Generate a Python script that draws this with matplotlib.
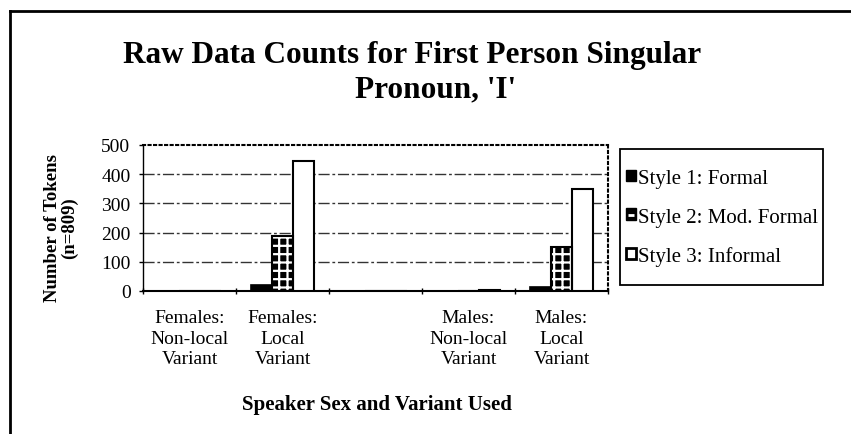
import matplotlib
matplotlib.use("Agg")
import matplotlib.pyplot as plt
import numpy as np
from matplotlib.patches import Patch, Rectangle
from matplotlib.lines import Line2D
from matplotlib.legend_handler import HandlerTuple

categories = ["Females:\nNon-local\nVariant", "Females:\nLocal\nVariant", "",
              "Males:\nNon-local\nVariant", "Males:\nLocal\nVariant"]
series_names = ["Style 1: Formal", "Style 2: Mod. Formal", "Style 3: Informal"]
style1 = [0, 20, 0, 0, 15]
style2 = [0, 188, 0, 0, 152]
style3 = [0, 445, 0, 5, 350]
yticks = [0, 100, 200, 300, 400, 500]

plt.rcParams['font.family'] = ['Liberation Serif', 'DejaVu Serif']
plt.rcParams['hatch.linewidth'] = 1.6

W, H = 851, 435
fig = plt.figure(figsize=(W / 100, H / 100), dpi=100)
ax = fig.add_axes([143 / W, 1 - 292 / H, (608 - 143) / W, (292 - 146) / H])

x = np.arange(len(categories))
bw = 0.225
# style 1
ax.bar(x - bw, style1, bw, color='black', edgecolor='black', linewidth=1.2, zorder=3)
# style 2 - black with white grid hatch
ax.bar(x, style2, bw, color='black', edgecolor='white', hatch='++', linewidth=0, zorder=3)
ax.bar(x, style2, bw, fill=False, edgecolor='black', linewidth=1.5, zorder=4)
# style 3
ax.bar(x + bw, style3, bw, color='white', edgecolor='black', linewidth=1.5, zorder=3)

ax.set_xlim(-0.5, len(categories) - 0.5)
ax.set_ylim(0, 500)
ax.set_yticks(yticks)
ax.set_yticklabels([str(v) for v in yticks], fontsize=14)
ax.tick_params(axis='y', length=3, width=1, pad=6, direction='out')

ax.set_xticks(np.arange(len(categories) + 1) - 0.5)
ax.set_xticklabels([])
ax.tick_params(axis='x', which='major', length=4, width=1, direction='inout')
ax.set_xticks(x, minor=True)
ax.set_xticklabels(categories, minor=True, fontsize=14, linespacing=1.27)
ax.tick_params(axis='x', which='minor', length=0, pad=13)

for v in yticks[1:-1]:
    ax.axhline(v, color='#333333', linewidth=1.0, linestyle=(0, (8, 2, 2, 2)), zorder=1)

ax.spines['top'].set_linestyle(':')
ax.spines['top'].set_linewidth(1.5)
ax.spines['right'].set_linestyle(':')
ax.spines['right'].set_linewidth(1.5)
ax.spines['left'].set_linewidth(1.0)
ax.spines['bottom'].set_linewidth(1.5)

# axis labels
fig.text(61 / W, 1 - 228 / H, "Number of Tokens\n(n=809)", rotation=90, ha='center', va='center',
         fontsize=13.5, fontweight='bold', linespacing=1.0)
fig.text(377 / W, 1 - 405 / H, "Speaker Sex and Variant Used", ha='center', va='center',
         fontsize=15, fontweight='bold')

# title
fig.text(412 / W, 1 - 63 / H, "Raw Data Counts for First Person Singular", ha='center',
         va='baseline', fontsize=22.5, fontweight='bold')
fig.text(436 / W, 1 - 97 / H, "Pronoun, 'I'", ha='center', va='baseline',
         fontsize=22.5, fontweight='bold')

# legend
h1 = Patch(facecolor='black', edgecolor='black')
h2 = (Patch(facecolor='black', edgecolor='black'),
      Line2D([], [], marker='_', color='white', markersize=5, markeredgewidth=2,
             linestyle='none'))
h3 = Patch(facecolor='white', edgecolor='black', linewidth=2)
leg = fig.legend([h1, h2, h3], series_names, loc='upper left',
                 bbox_to_anchor=(626 / W, 1 - 170 / H),
                 fontsize=15, frameon=False,
                 handlelength=0.48, handleheight=0.48,
                 handletextpad=0.1, labelspacing=0.94, borderpad=0, borderaxespad=0,
                 handler_map={tuple: HandlerTuple(ndivide=1)})
fig.add_artist(Rectangle((620 / W, 1 - 286 / H), (823 - 620) / W, (286 - 150) / H,
                         transform=fig.transFigure, fill=False, edgecolor='black',
                         linewidth=1.3))

# outer frame (left and top edges)
fig.add_artist(Line2D([10 / W, 10 / W], [0, 1 - 12 / H], color='black', linewidth=2,
                      transform=fig.transFigure))
fig.add_artist(Line2D([10 / W, 1], [1 - 12 / H, 1 - 12 / H], color='black', linewidth=2,
                      transform=fig.transFigure))

fig.savefig("out.png", dpi=100)
